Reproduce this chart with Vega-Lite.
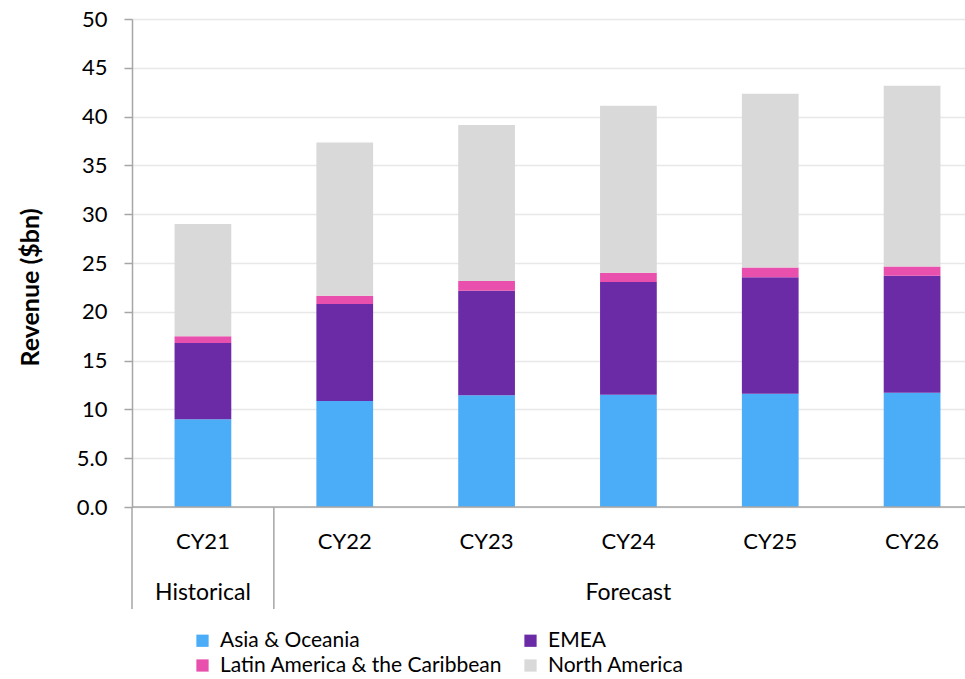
{
  "$schema": "https://vega.github.io/schema/vega-lite/v6.json",
  "width": 833,
  "height": 488,
  "autosize": {"type": "none"},
  "padding": {"left": 132, "top": 19, "right": 0, "bottom": 172},
  "background": "white",
  "config": {"font": "Lato", "view": {"stroke": null}},
  "layer": [
    {
      "data": {"values": [
        {"year": "CY21", "region": "Asia & Oceania", "revenue": 9.0},
        {"year": "CY21", "region": "EMEA", "revenue": 7.8},
        {"year": "CY21", "region": "Latin America & the Caribbean", "revenue": 0.7},
        {"year": "CY21", "region": "North America", "revenue": 11.5},
        {"year": "CY22", "region": "Asia & Oceania", "revenue": 10.85},
        {"year": "CY22", "region": "EMEA", "revenue": 9.95},
        {"year": "CY22", "region": "Latin America & the Caribbean", "revenue": 0.85},
        {"year": "CY22", "region": "North America", "revenue": 15.7},
        {"year": "CY23", "region": "Asia & Oceania", "revenue": 11.45},
        {"year": "CY23", "region": "EMEA", "revenue": 10.7},
        {"year": "CY23", "region": "Latin America & the Caribbean", "revenue": 1.0},
        {"year": "CY23", "region": "North America", "revenue": 16.0},
        {"year": "CY24", "region": "Asia & Oceania", "revenue": 11.5},
        {"year": "CY24", "region": "EMEA", "revenue": 11.55},
        {"year": "CY24", "region": "Latin America & the Caribbean", "revenue": 0.95},
        {"year": "CY24", "region": "North America", "revenue": 17.1},
        {"year": "CY25", "region": "Asia & Oceania", "revenue": 11.6},
        {"year": "CY25", "region": "EMEA", "revenue": 11.95},
        {"year": "CY25", "region": "Latin America & the Caribbean", "revenue": 1.0},
        {"year": "CY25", "region": "North America", "revenue": 17.8},
        {"year": "CY26", "region": "Asia & Oceania", "revenue": 11.7},
        {"year": "CY26", "region": "EMEA", "revenue": 12.0},
        {"year": "CY26", "region": "Latin America & the Caribbean", "revenue": 0.95},
        {"year": "CY26", "region": "North America", "revenue": 18.5}
      ]},
      "mark": {"type": "bar", "width": {"band": 0.4}},
      "encoding": {
        "x": {
          "field": "year", "type": "nominal",
          "scale": {"range": [0, 851], "paddingInner": 0, "paddingOuter": 0},
          "axis": {"title": null, "domain": false, "ticks": false, "grid": false, "labelAngle": 0, "labelFontSize": 22, "labelColor": "black", "labelPadding": 24}
        },
        "y": {
          "field": "revenue", "type": "quantitative", "stack": "zero",
          "scale": {"domain": [0, 50]},
          "axis": {
            "title": "Revenue ($bn)", "titleFontSize": 25, "titleFontWeight": "bold", "titleColor": "black", "titlePadding": 33, "titleY": 268,
            "values": [0, 5, 10, 15, 20, 25, 30, 35, 40, 45, 50],
            "labelExpr": "datum.value < 10 ? format(datum.value, '.1f') : format(datum.value, 'd')",
            "labelFontSize": 22, "labelColor": "black", "labelPadding": 17,
            "tickSize": 8, "tickColor": "#A6A6A6", "tickWidth": 1.5,
            "domainColor": "#A6A6A6", "domainWidth": 1.5,
            "gridColor": "#E8E8E8", "gridWidth": 1.5
          }
        },
        "order": {"field": "region", "sort": "ascending"},
        "color": {
          "field": "region", "type": "nominal",
          "scale": {
            "domain": ["Asia & Oceania", "EMEA", "Latin America & the Caribbean", "North America"],
            "range": ["#4BACF7", "#6C2BA6", "#E94FAC", "#D9D9D9"]
          },
          "legend": {
            "title": null, "orient": "none", "legendX": 60, "legendY": 611, "columns": 2, "direction": "horizontal",
            "symbolType": "square", "symbolSize": 150, "symbolStrokeWidth": 0,
            "labelFontSize": 21, "labelColor": "black", "labelOffset": 7, "labelLimit": 400,
            "columnPadding": 17, "rowPadding": 3, "padding": 0
          }
        }
      }
    },
    {
      "data": {"values": [{"base": 0}]},
      "mark": {"type": "rule", "color": "#A6A6A6", "strokeWidth": 1.5},
      "encoding": {"y": {"field": "base", "type": "quantitative"}}
    },
    {
      "data": {"values": [{"year": "CY21", "top": 0, "bottom": -10.45}, {"year": "CY22", "top": 0, "bottom": -10.45}]},
      "mark": {"type": "rule", "color": "#A6A6A6", "strokeWidth": 1.5},
      "encoding": {
        "x": {"field": "year", "type": "nominal", "bandPosition": 0},
        "y": {"field": "top", "type": "quantitative"},
        "y2": {"field": "bottom"}
      }
    },
    {
      "data": {"values": [{"year": "CY21", "label": "Historical", "pos": -9.5}, {"year": "CY24", "label": "Forecast", "pos": -9.5}]},
      "mark": {"type": "text", "fontSize": 23, "color": "black", "baseline": "alphabetic"},
      "encoding": {
        "x": {"field": "year", "type": "nominal"},
        "y": {"field": "pos", "type": "quantitative"},
        "text": {"field": "label"}
      }
    }
  ]
}
